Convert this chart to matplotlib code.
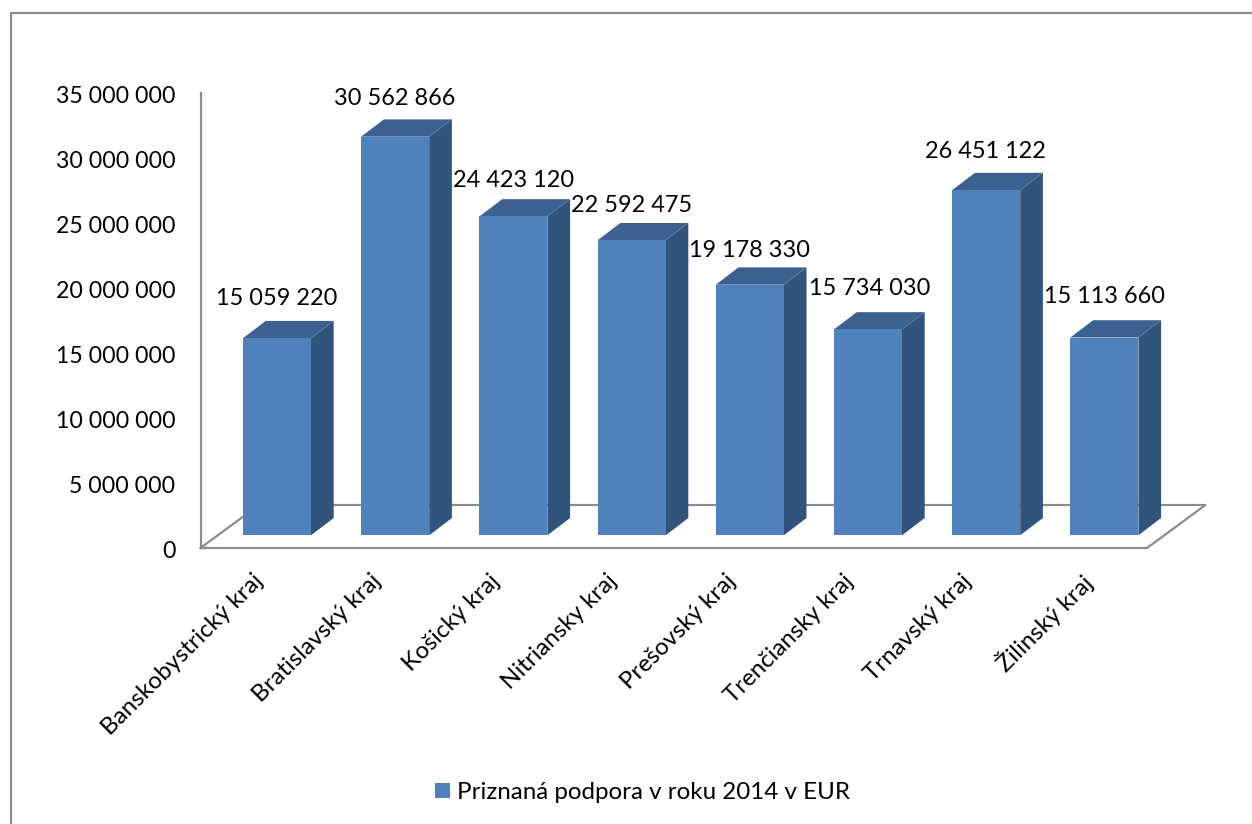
import matplotlib
matplotlib.use('Agg')
import matplotlib.pyplot as plt
from matplotlib.lines import Line2D
from matplotlib.patches import Polygon
from matplotlib.transforms import ScaledTranslation, offset_copy

plt.rcParams['font.family'] = ['Lato', 'DejaVu Sans']

regions = ['Banskobystrický kraj', 'Bratislavský kraj', 'Košický kraj', 'Nitriansky kraj',
           'Prešovský kraj', 'Trenčiansky kraj', 'Trnavský kraj', 'Žilinský kraj']
support = [15059220, 30562866, 24423120, 22592475, 19178330, 15734030, 26451122, 15113660]
value_labels = ['15 059 220', '30 562 866', '24 423 120', '22 592 475',
                '19 178 330', '15 734 030', '26 451 122', '15 113 660']
y_ticks = [0, 5000000, 10000000, 15000000, 20000000, 25000000, 30000000, 35000000]
y_tick_labels = ['0', '5 000 000', '10 000 000', '15 000 000', '20 000 000',
                 '25 000 000', '30 000 000', '35 000 000']
series_name = 'Priznaná podpora v roku 2014 v EUR'

W, H = 1252, 824
FRONT, SIDE, TOP = '#4f81bd', '#31547c', '#3c6190'
GREY = '#8c8c8c'

fig = plt.figure(figsize=(W / 100, H / 100), dpi=100)
ax = fig.add_axes([200.5 / W, (H - 548) / H, (1147 - 200.5) / W, 455 / H])
ax.patch.set_visible(False)

# one category = 118.2 px, first bar centred on x = 277 px
cat_px = 118.2
ax.set_xlim((200.5 - 277) / cat_px, (1147 - 277) / cat_px)
ax.set_ylim(0, 35000000)
val_px = 35000000 / 455

bar_w = 68 / cat_px
dx = 22.7 / cat_px
dy = 17.3 * val_px
base = -100000

# bars stand a bit in front of the axis origin
shifted = offset_copy(ax.transData, fig=fig, x=0, y=14, units='dots')

# floor of the 3d box
x0, x1 = ax.get_xlim()
floor_x = 58.5 / cat_px
floor_y = 43 * val_px
ax.plot([x0, x0 + floor_x, x1 + floor_x, x1], [0, floor_y, floor_y, 0],
        color=GREY, lw=1.6, clip_on=False, zorder=1)

bars = ax.bar(range(len(support)), support, width=bar_w, bottom=0, color=FRONT,
              transform=shifted, zorder=3, label=series_name, clip_on=False)

# the data labels were moved by hand in the original, px right / px up
nudge_x = [0, -1, 0, 0, 0, 2, -1, 0]
nudge_y = [-1, -2, -4, -5, -6, 1, -2, 1]

for i, v in enumerate(support):
    left, right = i - bar_w / 2, i + bar_w / 2
    ax.add_patch(Polygon([(right, base), (right + dx, base + dy), (right + dx, v + dy), (right, v)],
                         facecolor=SIDE, edgecolor='none', transform=shifted, zorder=2, clip_on=False))
    ax.add_patch(Polygon([(left, v), (left + dx, v + dy), (right + dx, v + dy), (right, v)],
                         facecolor=TOP, edgecolor='none', transform=shifted, zorder=2, clip_on=False))
    ax.add_patch(Polygon([(left, base), (right, base), (right, 0), (left, 0)],
                         facecolor=FRONT, edgecolor='none', transform=shifted, zorder=3, clip_on=False))
    ax.annotate(value_labels[i], (i, v), xycoords=shifted,
                xytext=(nudge_x[i] * 0.72, 29 + nudge_y[i] * 0.72), textcoords='offset points',
                ha='center', va='center', fontsize=16.9, color='black', zorder=5)

for s in ['top', 'right']:
    ax.spines[s].set_visible(False)
for s in ['left', 'bottom']:
    ax.spines[s].set_color(GREY)
    ax.spines[s].set_linewidth(1.6)

ax.set_yticks(y_ticks)
ax.set_yticklabels(y_tick_labels, fontsize=16.7)
ax.tick_params(axis='y', length=0, pad=18)
down = ScaledTranslation(0, -1.5 / 100, fig.dpi_scale_trans)
for lab in ax.get_yticklabels():
    lab.set_transform(lab.get_transform() + down)

ax.set_xticks(range(len(regions)))
ax.set_xticklabels(regions, fontsize=17.3, rotation=45, ha='right', va='top', rotation_mode='anchor')
ax.tick_params(axis='x', length=0, pad=16)
shift = ScaledTranslation(-25 / 100, 0, fig.dpi_scale_trans)
for lab in ax.get_xticklabels():
    lab.set_transform(lab.get_transform() + shift)

ax.legend(loc='center', bbox_to_anchor=(642.5 / W, (H - 792.5) / H), bbox_transform=fig.transFigure,
          frameon=False, fontsize=17.4, handlelength=0.62, handleheight=0.62, handletextpad=0.29)

# outer frame of the chart, cut off at the page edge
fig.add_artist(Line2D([10.5 / W, 10.5 / W, 1], [0, (H - 13) / H, (H - 13) / H], color=GREY, lw=1.6))

fig.savefig('out.png', dpi=100)
